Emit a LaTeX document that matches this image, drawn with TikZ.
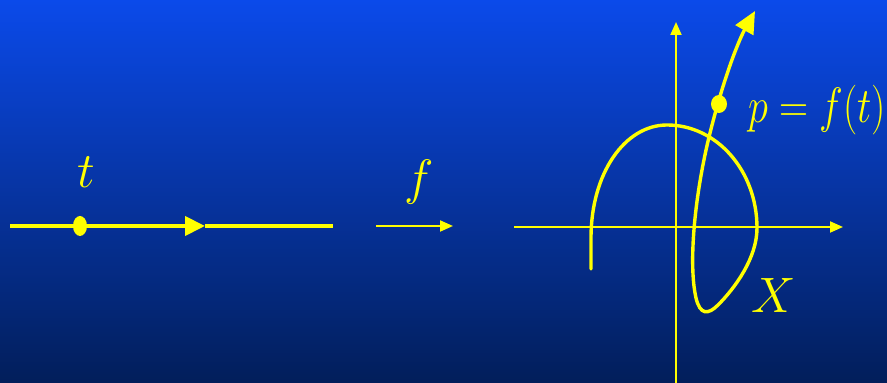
\documentclass[tikz,border=0pt]{standalone}
\usepackage{amsmath}
\usepackage{xcolor}
\usetikzlibrary{arrows.meta}
\definecolor{slidetop}{HTML}{0B4AEA}
\definecolor{slidebottom}{HTML}{021E5A}
\definecolor{curveink}{HTML}{FFFF00}

\begin{document}
\begin{tikzpicture}[
  x=0.5pt,
  y=0.5pt,
  every node/.style={text=curveink},
  thinaxis/.style={curveink, line width=1pt, -{Triangle[length=6.5pt,width=5.5pt]}},
  thickpath/.style={curveink, line width=2pt}
]
  \useasboundingbox (0,0) rectangle (887,383);
  \shade[top color=slidetop, bottom color=slidebottom] (0,0) rectangle (887,383);

  \coordinate (lineL) at (10,157);
  \coordinate (lineM) at (205,157);
  \coordinate (lineR) at (333,157);
  \draw[thickpath, -{Triangle[length=10pt,width=9.5pt]}] (lineL) -- (lineM);
  \draw[thickpath] (lineM) -- (lineR);
  \fill[curveink] (80,157) ellipse (7 and 10);
  \node (tlabel) at (86,211) {\fontsize{34}{38}\selectfont$t$};

  \coordinate (mapL) at (376,157);
  \coordinate (mapR) at (453,157);
  \draw[thinaxis] (mapL) -- (mapR);
  \node (flabel) at (419,201) {\fontsize{31}{34}\selectfont$f$};

  \coordinate (xaxL) at (514,156);
  \coordinate (xaxR) at (843,156);
  \coordinate (yaxB) at (676,0);
  \coordinate (yaxT) at (676,361);
  \draw[thinaxis] (xaxL) -- (xaxR);
  \draw[thinaxis] (yaxB) -- (yaxT);

  \draw[curveink, line width=1.7pt, line cap=round, -{Triangle[length=11pt,width=10pt]}]
    (591,114) -- (591,145)
    .. controls (591,210) and (625,258) .. (667,258)
    .. controls (717,258) and (757,212) .. (757,155)
    .. controls (757,125) and (735,95) .. (718,78)
    .. controls (708,68) and (700,68) .. (696,85)
    .. controls (688,120) and (695,190) .. (710,250)
    .. controls (725,310) and (740,345) .. (755,372);
  \fill[curveink] (719,279) ellipse (8 and 9);

  \node[anchor=base west, inner sep=0pt] (plabel) at (748,260)
    {\fontsize{24}{28}\selectfont\scalebox{0.81}[1]{$p=f(t)$}};
  \node (xlabel) at (774,87) {\fontsize{28}{32}\selectfont$X$};
\end{tikzpicture}
\end{document}
